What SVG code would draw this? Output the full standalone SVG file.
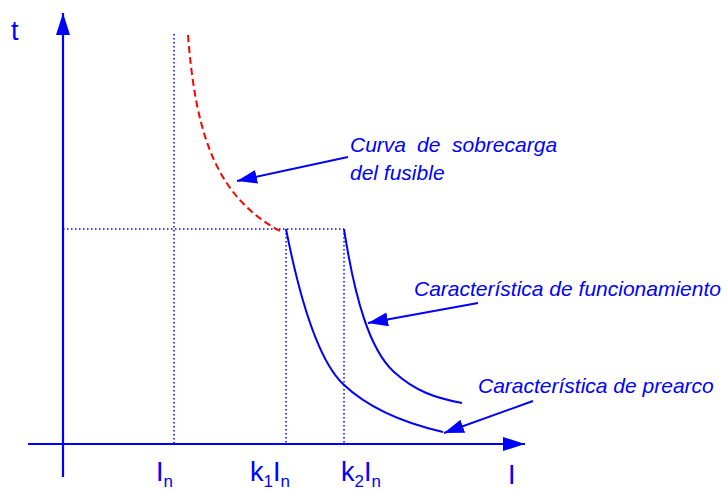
<svg xmlns="http://www.w3.org/2000/svg" width="728" height="491" viewBox="0 0 728 491">
<defs>
<marker id="ah" markerUnits="userSpaceOnUse" markerWidth="22" markerHeight="16" refX="20" refY="7" orient="auto">
<path d="M0,0 L20,7 L0,14 Z" fill="#0000FF"/>
</marker>
<marker id="axh" markerUnits="userSpaceOnUse" markerWidth="24" markerHeight="16" refX="22" refY="7" orient="auto">
<path d="M0,0 L22,7 L0,14 Z" fill="#0000FF"/>
</marker>
</defs>
<style>
.ax{stroke:#0000FF;stroke-width:2.2;fill:none}
.dot{stroke:#0000FF;stroke-width:1.5;stroke-dasharray:1.5 2.5;fill:none}
.curve{stroke:#0000FF;stroke-width:2;fill:none}
.red{stroke:#FF0000;stroke-width:2;stroke-dasharray:7 4;fill:none}
.ptr{stroke:#0000FF;stroke-width:2;fill:none}
.lbl{font-family:"Liberation Sans",Arial,sans-serif;font-style:italic;font-size:21px;fill:#0000FF}
.ax-lbl{font-family:"Liberation Sans",Arial,sans-serif;font-size:27px;fill:#0000FF}
.sub{font-size:17px}
</style>
<g id="axes">
<line class="ax" x1="63" y1="477" x2="63" y2="13" marker-end="url(#axh)"/>
<line class="ax" x1="28" y1="444" x2="525" y2="444" marker-end="url(#axh)"/>
</g>
<g id="guides">
<line class="dot" x1="174" y1="34" x2="174" y2="444"/>
<line class="dot" x1="286" y1="229" x2="286" y2="444"/>
<line class="dot" x1="344" y1="229" x2="344" y2="444"/>
<line class="dot" x1="63" y1="229" x2="344" y2="229"/>
</g>
<g id="curva-sobrecarga">
<path class="red" d="M188,35 C195,125 212,195 280,231"/>
</g>
<g id="prearco">
<path class="curve" d="M286,229 C300,300 318,360 343,384 C365,405 395,421 443,432"/>
</g>
<g id="funcionamiento">
<path class="curve" d="M344,229 C355,300 370,350 394,372 C415,391 435,398 462,403"/>
</g>
<g id="connectors">
<line class="ptr" x1="348" y1="157" x2="237" y2="181" marker-end="url(#ah)"/>
<line class="ptr" x1="478" y1="303" x2="368" y2="323" marker-end="url(#ah)"/>
<line class="ptr" x1="533" y1="401" x2="444" y2="433" marker-end="url(#ah)"/>
</g>
<g id="labels">
<text class="ax-lbl" x="11" y="40" font-size="28">t</text>
<text class="ax-lbl" x="156" y="481">I<tspan class="sub" dy="6">n</tspan></text>
<text class="ax-lbl" x="250" y="481">k<tspan class="sub" dy="6">1</tspan><tspan dy="-6">I</tspan><tspan class="sub" dy="6">n</tspan></text>
<text class="ax-lbl" x="341" y="481">k<tspan class="sub" dy="6">2</tspan><tspan dy="-6">I</tspan><tspan class="sub" dy="6">n</tspan></text>
<text class="ax-lbl" x="508" y="484">I</text>
<text class="lbl" y="152"><tspan x="350">Curva</tspan><tspan x="417">de</tspan><tspan x="452">sobrecarga</tspan></text>
<text class="lbl" x="350" y="180">del fusible</text>
<text class="lbl" x="414" y="296">Característica de funcionamiento</text>
<text class="lbl" x="478" y="393">Característica de prearco</text>
</g>
</svg>
